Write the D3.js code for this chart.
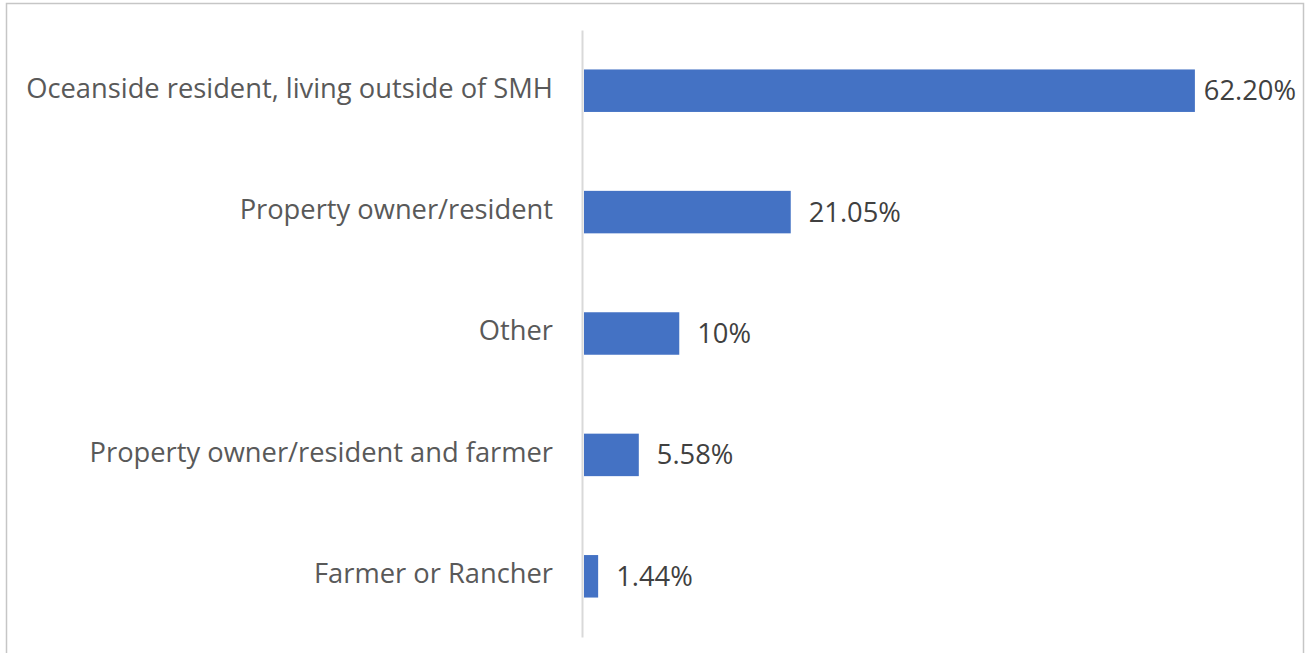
<!DOCTYPE html>
<html><head><meta charset="utf-8">
<script src="https://cdn.jsdelivr.net/npm/d3@7"></script>
<style>html,body{margin:0;padding:0;background:#fff;}svg{display:block;}</style>
</head><body>
<svg id="chart" width="1305" height="653"></svg>
<script>
const categories = ["Oceanside resident, living outside of SMH","Property owner/resident","Other","Property owner/resident and farmer","Farmer or Rancher"];
const values = [62.20, 21.05, 9.7, 5.58, 1.44];
const valueLabels = ["62.20%","21.05%","10%","5.58%","1.44%"];

const svg = d3.select("#chart");
svg.append("rect").attr("x",6.5).attr("y",3.5).attr("width",1297).attr("height",660)
  .attr("fill","#fff").attr("stroke","#c6c6c6").attr("stroke-width",1.5);

const x0 = 584;
const x = d3.scaleLinear().domain([0,70]).range([x0, x0 + 687.5]);
const y = d3.scaleBand().domain(categories).range([30,637]).paddingInner(0.65).paddingOuter(0.325);

const font = "'Open Sans', 'Liberation Sans', sans-serif";
svg.selectAll("rect.bar").data(values).enter().append("rect").attr("class","bar")
  .attr("x", x(0)).attr("y",(d,i)=>y(categories[i]))
  .attr("width", d=>x(d)-x(0)).attr("height", y.bandwidth()).attr("fill","#4472c4");

const axis = d3.axisLeft(y).tickSize(0).tickPadding(29);
const g = svg.append("g").attr("transform",`translate(${x0-2},0)`).call(axis);
g.select(".domain").attr("stroke","#d9d9d9").attr("stroke-width",2);
g.selectAll("text").attr("font-family",font).attr("font-size",27.3).attr("fill","#595959").attr("dy","0.25em");

const rightLimit = 1296;
svg.selectAll("text.val").data(values).enter().append("text").attr("class","val")
  .attr("y",(d,i)=>y(categories[i])+y.bandwidth()/2)
  .attr("dy","0.35em").attr("font-family",font).attr("font-size",27.3).attr("fill","#404040")
  .text((d,i)=>valueLabels[i])
  .attr("x", function(d){ const w=this.getComputedTextLength(); return Math.min(x(d)+18, rightLimit-w); });
</script>
</body></html>
